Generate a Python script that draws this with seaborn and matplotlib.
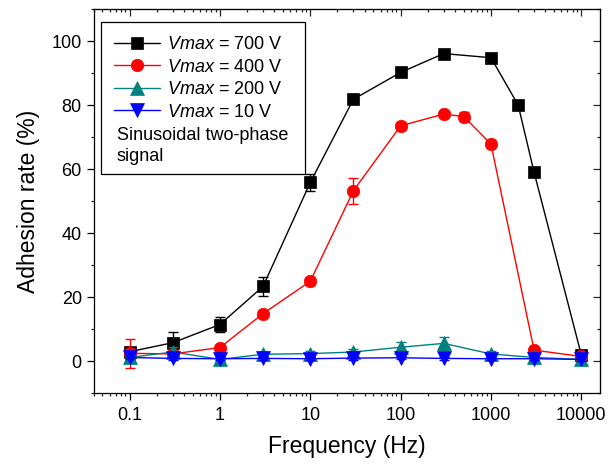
import matplotlib
matplotlib.use("Agg")
import matplotlib.pyplot as plt
from matplotlib.patches import Rectangle
from matplotlib.ticker import LogLocator, FixedLocator, MultipleLocator, NullFormatter
import seaborn as sns

# DATA
freq_700 = [0.1, 0.3, 1, 3, 10, 30, 100, 300, 1000, 2000, 3000, 10000]
rate_700 = [3.0, 5.8, 11.5, 23.4, 55.9, 81.9, 90.3, 96.2, 94.9, 80.1, 59.1, 2.0]
err_700 = [0.8, 3.4, 2.2, 2.9, 2.8, 0.8, 0.8, 0.8, 0.8, 0.8, 0.8, 0.8]

freq_400 = [0.1, 0.3, 1, 3, 10, 30, 100, 300, 500, 1000, 3000, 10000]
rate_400 = [2.5, 2.3, 4.3, 14.9, 25.0, 53.3, 73.6, 77.3, 76.5, 67.9, 3.5, 1.5]
err_400 = [4.5, 0.8, 0.8, 0.8, 1.0, 4.0, 0.8, 1.0, 1.5, 0.8, 0.8, 0.8]

freq_200 = [0.1, 0.3, 1, 3, 10, 30, 100, 300, 1000, 3000, 10000]
rate_200 = [1.2, 2.9, 0.6, 2.2, 2.4, 2.9, 4.4, 5.6, 2.3, 1.2, 0.6]
err_200 = [0.8, 1.5, 0.5, 0.8, 0.8, 0.8, 1.5, 2.0, 0.8, 0.8, 0.5]

freq_10 = [0.1, 0.3, 1, 3, 10, 30, 100, 300, 1000, 3000, 10000]
rate_10 = [1.2, 0.9, 0.8, 0.9, 0.8, 1.0, 1.1, 0.9, 0.8, 0.8, 0.6]
err_10 = [0.5, 0.5, 0.5, 0.5, 0.5, 0.5, 0.5, 0.5, 0.5, 0.5, 0.5]

labels = ["$\\mathit{Vmax}$ = 700 V", "$\\mathit{Vmax}$ = 400 V",
          "$\\mathit{Vmax}$ = 200 V", "$\\mathit{Vmax}$ = 10 V"]
tick_labels = ["0.1", "1", "10", "100", "1000", "10000"]

# SETTINGS
sns.set_style("ticks")
plt.rcParams["font.family"] = ["Liberation Sans", "DejaVu Sans"]
plt.rcParams["mathtext.fontset"] = "custom"
plt.rcParams["mathtext.rm"] = "Liberation Sans"
plt.rcParams["mathtext.it"] = "Liberation Sans:italic"
plt.rcParams["text.color"] = "black"
plt.rcParams["axes.labelcolor"] = "black"

fig = plt.figure(figsize=(6.12, 4.71), dpi=100)
ax = fig.add_axes([0.153, 0.165, 0.827, 0.815])
ax.set_xscale("log")

series = [
    (freq_700, rate_700, err_700, "black", "s", 8),
    (freq_400, rate_400, err_400, "#ff0000", "o", 9),
    (freq_200, rate_200, err_200, "#008080", "^", 10),
    (freq_10, rate_10, err_10, "#0000ff", "v", 10),
]

for i, (f, r, e, c, m, ms) in enumerate(series):
    ax.errorbar(f, r, yerr=e, fmt="none", ecolor=c, elinewidth=1, capsize=3.5,
                capthick=1, zorder=2 + 2 * i)
    sns.lineplot(x=f, y=r, ax=ax, color=c, marker=m, markersize=ms,
                 markeredgecolor=c, markeredgewidth=0.5, linewidth=1,
                 label=labels[i], zorder=3 + 2 * i)

ax.set_xlim(0.04, 16000)
ax.set_ylim(-10, 110)

ax.xaxis.set_major_locator(FixedLocator([0.1, 1, 10, 100, 1000, 10000]))
ax.set_xticklabels(tick_labels)
ax.xaxis.set_minor_locator(LogLocator(base=10, subs=range(2, 10), numticks=20))
ax.xaxis.set_minor_formatter(NullFormatter())
ax.yaxis.set_major_locator(MultipleLocator(20))
ax.yaxis.set_minor_locator(MultipleLocator(10))

ax.tick_params(which="major", direction="out", length=5, width=0.9, labelsize=13,
               colors="black")
ax.tick_params(axis="x", which="major", pad=5)
ax.tick_params(which="minor", direction="out", length=2.5, width=0.9)

# mirrored ticks on top/right, pointing inward
top = ax.secondary_xaxis("top")
top.xaxis.set_major_locator(FixedLocator([0.1, 1, 10, 100, 1000, 10000]))
top.xaxis.set_minor_locator(LogLocator(base=10, subs=range(2, 10), numticks=20))
top.tick_params(which="major", direction="in", length=5, width=0.9, labeltop=False)
top.tick_params(which="minor", direction="in", length=2.5, width=0.9)
right = ax.secondary_yaxis("right")
right.yaxis.set_major_locator(MultipleLocator(20))
right.yaxis.set_minor_locator(MultipleLocator(10))
right.tick_params(which="major", direction="in", length=5, width=0.9, labelright=False)
right.tick_params(which="minor", direction="in", length=2.5, width=0.9)

for sp in ax.spines.values():
    sp.set_linewidth(0.9)
    sp.set_color("black")

ax.set_xlabel("Frequency (Hz)", fontsize=16.5, labelpad=8)
ax.set_ylabel("Adhesion rate (%)", fontsize=16.5, labelpad=8)

# legend with the note, inside a box
ax.add_patch(Rectangle((0.0148, 0.570), 0.403, 0.3975, transform=ax.transAxes,
                       fill=False, edgecolor="black", linewidth=0.9, zorder=20))
ax.legend(loc="upper left", bbox_to_anchor=(0.040, 0.930), frameon=False,
          fontsize=13, handlelength=2.55, handletextpad=0.37, labelspacing=0.3,
          borderpad=0, borderaxespad=0)
ax.text(0.0454, 0.694, "Sinusoidal two-phase\nsignal", transform=ax.transAxes,
        fontsize=13, va="top", ha="left", linespacing=1.28)

fig.savefig("out.png", dpi=100)
